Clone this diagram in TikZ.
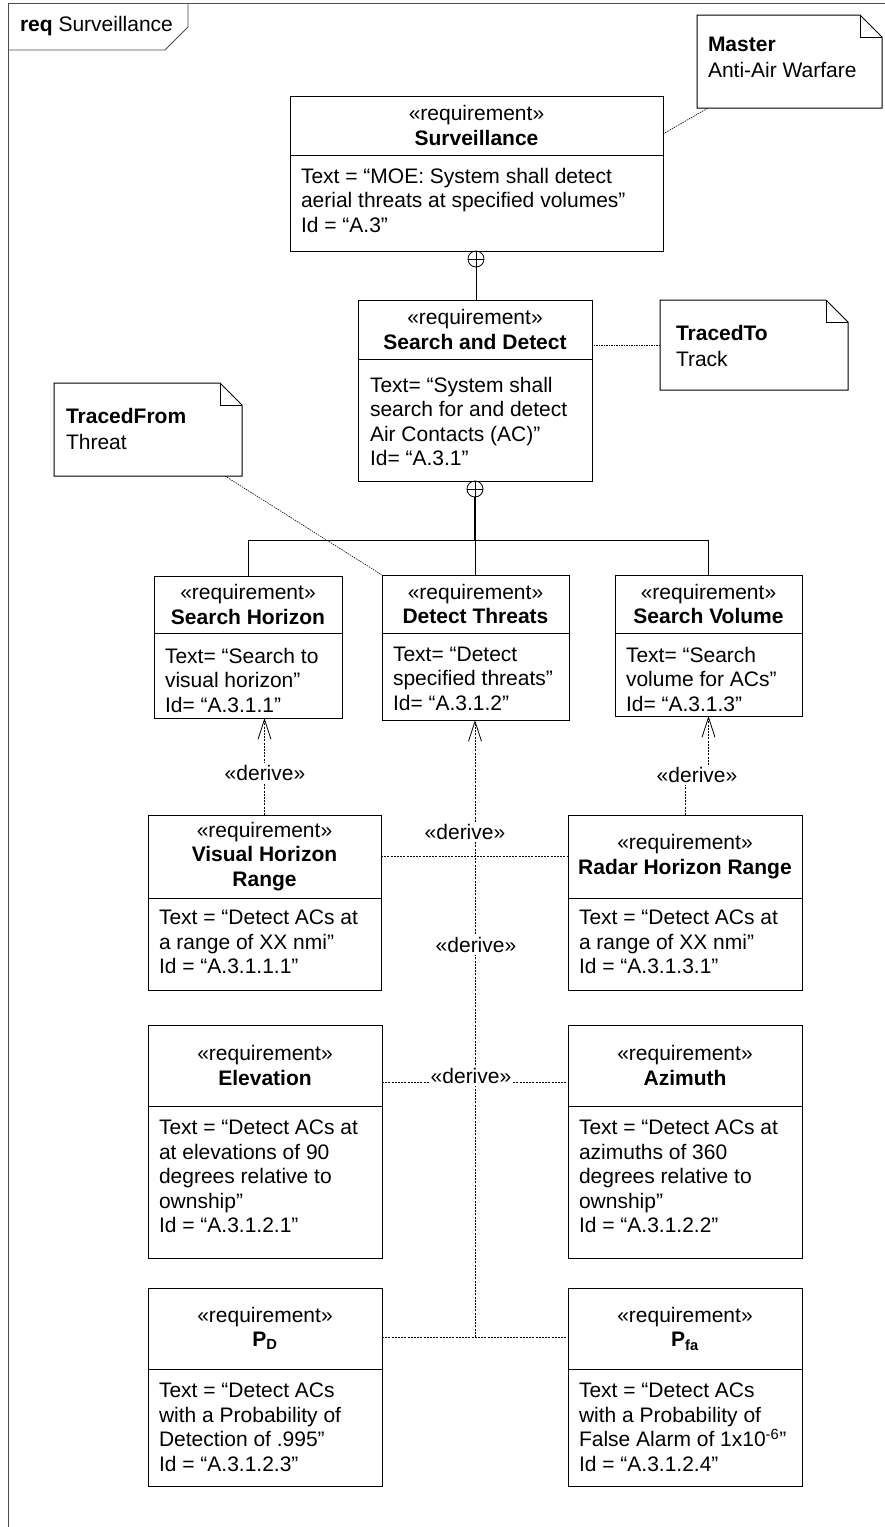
\documentclass[tikz,border=0pt]{standalone}
\usepackage{fontspec}
\setmainfont{Liberation Sans}
\usetikzlibrary{arrows.meta}

% requirement block: name, x1, y1, x2, y2, y of compartment divider
\newcommand\reqbox[6]{%
  \node[reqbox, minimum width={(#4-#2)*1pt}, minimum height={(#5-#3)*1pt}] (#1) at (#2,#3) {};
  \draw[line width=1pt] (#2,#6) -- (#4,#6);
}
% comment note with folded corner: name, x1, y1, x2, y2
\newcommand\notebox[5]{%
  \node[anchor=north west, minimum width={(#4-#2)*1pt}, minimum height={(#5-#3)*1pt}] (#1) at (#2,#3) {};
  \draw[line width=1pt, fill=white] (#2,#3) -- (#4-22,#3) -- (#4,#3+22) -- (#4,#5) -- (#2,#5) -- cycle;
  \draw[line width=0.8pt] (#4-22,#3) -- (#4-22,#3+22) -- (#4,#3+22);
}

\begin{document}
\begin{tikzpicture}[x=1pt,y=-1pt,
  every node/.style={inner sep=0pt, outer sep=0pt, font=\fontsize{21}{24.5}\selectfont},
  reqbox/.style={draw, line width=1pt, rectangle, anchor=north west},
  ttl/.style={align=center},
  body/.style={align=left, anchor=north west},
  notetxt/.style={align=left, anchor=north west, font=\fontsize{21}{26}\selectfont},
  trace/.style={line width=0.6pt, dash pattern=on 1.5pt off 1pt},
  derive/.style={line width=0.6pt, dash pattern=on 2pt off 1.2pt},
  lbl/.style={fill=white, inner sep=2pt},
  openarrow/.style={-{Straight Barb[length=20pt,width=13pt,line width=0.8pt]}},
  contain/.style={draw, circle, minimum size=16pt, line width=0.8pt}
]
\useasboundingbox (0,0) rectangle (885,1527);

% diagram frame and header
\draw[line width=0.8pt, black!70] (8,1527) -- (8,3) -- (885,3);
\draw[line width=0.8pt, black!70] (8,50) -- (165,50) -- (188,27) -- (188,3);
\node[anchor=west] (hdr) at (20,26) {\textbf{req} Surveillance};

% requirement blocks
\reqbox{sv}{290}{96}{663}{251}{155}
\node[ttl] (svT) at (476.5,125.5) {«requirement»\\\textbf{Surveillance}};
\node[body] (svB) at (301,168) {Text = “MOE: System shall detect\\aerial threats at specified volumes”\\Id = “A.3”};

\reqbox{sd}{358}{300}{592}{481}{359}
\node[ttl] (sdT) at (475,329.5) {«requirement»\\\textbf{Search and Detect}};
\node[body] (sdB) at (370,377) {Text= “System shall\\search for and detect\\Air Contacts (AC)”\\Id= “A.3.1”};

\reqbox{sh}{154}{576}{342}{718}{633}
\node[ttl] (shT) at (248,604.5) {«requirement»\\\textbf{Search Horizon}};
\node[body] (shB) at (165,648) {Text= “Search to\\visual horizon”\\Id= “A.3.1.1”};

\reqbox{dt}{382}{575}{569}{720}{633}
\node[ttl] (dtT) at (475.5,604) {«requirement»\\\textbf{Detect Threats}};
\node[body] (dtB) at (393,647) {Text= “Detect\\specified threats”\\Id= “A.3.1.2”};

\reqbox{svl}{615}{575}{802}{716}{633}
\node[ttl] (svlT) at (708.5,604) {«requirement»\\\textbf{Search Volume}};
\node[body] (svlB) at (626,647) {Text= “Search\\volume for ACs”\\Id= “A.3.1.3”};

\reqbox{vhr}{148}{815}{381}{990}{898}
\node[ttl] (vhrT) at (264.5,856.5) {«requirement»\\\textbf{Visual Horizon}\\\textbf{Range}};
\node[body] (vhrB) at (159,910) {Text = “Detect ACs at\\a range of XX nmi”\\Id = “A.3.1.1.1”};

\reqbox{rhr}{568}{815}{802}{990}{898}
\node[ttl] (rhrT) at (685,856.5) {«requirement»\\\textbf{Radar Horizon Range}};
\node[body] (rhrB) at (579,910) {Text = “Detect ACs at\\a range of XX nmi”\\Id = “A.3.1.3.1”};

\reqbox{el}{148}{1025}{382}{1258}{1106}
\node[ttl] (elT) at (265,1065.5) {«requirement»\\\textbf{Elevation}};
\node[body] (elB) at (159,1120) {Text = “Detect ACs at\\at elevations of 90\\degrees relative to\\ownship”\\Id = “A.3.1.2.1”};

\reqbox{az}{568}{1025}{802}{1258}{1106}
\node[ttl] (azT) at (685,1065.5) {«requirement»\\\textbf{Azimuth}};
\node[body] (azB) at (579,1120) {Text = “Detect ACs at\\azimuths of 360\\degrees relative to\\ownship”\\Id = “A.3.1.2.2”};

\reqbox{pd}{148}{1288}{382}{1486}{1369}
\node[ttl] (pdT) at (265,1328.5) {«requirement»\\\textbf{P\textsubscript{D}}};
\node[body] (pdB) at (159,1383) {Text = “Detect ACs\\with a Probability of\\Detection of .995”\\Id = “A.3.1.2.3”};

\reqbox{pf}{568}{1288}{802}{1486}{1369}
\node[ttl] (pfT) at (685,1328.5) {«requirement»\\\textbf{P\textsubscript{fa}}};
\node[body] (pfB) at (579,1383) {Text = “Detect ACs\\with a Probability of\\False Alarm of 1x10\textsuperscript{-6}”\\Id = “A.3.1.2.4”};

% notes
\notebox{mn}{697}{15}{882}{108}
\node[notetxt] (mnT) at (708,37) {\textbf{Master}\\Anti-Air Warfare};
\notebox{tt}{660}{300}{848}{390}
\node[notetxt] (ttT) at (676,325) {\textbf{TracedTo}\\Track};
\notebox{tf}{54}{383}{242}{476}
\node[notetxt] (tfT) at (66,408) {\textbf{TracedFrom}\\Threat};

% note attachments
\draw[trace] ([yshift=-38pt]sv.north east) -- ([xshift=11pt]mn.south west);
\draw[trace] (tt.west) -- (tt.west -| sd.east);
\draw[trace] ([xshift=-17pt]tf.south east) -- (dt.north west);

% containment
\node[contain] (c1) at (476,259) {};
\draw[line width=0.8pt] (c1.north) -- (c1.south) (c1.west) -- (c1.east);
\draw[line width=0.8pt] (c1.south) -- (c1.south |- sd.north);
\node[contain] (c2) at (475,489) {};
\draw[line width=0.8pt] (c2.north) -- (c2.south) (c2.west) -- (c2.east);
\coordinate (bus) at (475,540);
\draw[line width=1.2pt] (c2.south) -- (bus);
\draw[line width=0.8pt] (sh.north) -- (sh.north |- bus) -- (svl.north |- bus) -- (svl.north);
\draw[line width=0.8pt] (bus) -- (bus -| dt.north) -- (dt.north);

% derive relations
\draw[derive, openarrow] (vhr.north) -- (vhr.north |- sh.south);
\node[lbl] (d1) at (265,773) {«derive»};
\draw[derive, openarrow] (rhr.north) -- ++(0,-40) -| (svl.south);
\node[lbl] (d2) at (697,775) {«derive»};

\coordinate (trunk) at (475,1337);
\draw[derive, openarrow] (trunk) -- (trunk |- dt.south);
\draw[derive] ([yshift=-41pt]vhr.north east) -- ([yshift=-41pt]rhr.north west);
\draw[derive] ([yshift=-57pt]el.north east) -- ([yshift=-57pt]az.north west);
\draw[derive] ([yshift=-49pt]pd.north east) -- ([yshift=-49pt]pf.north west);
\node[lbl] (d3) at (465,832) {«derive»};
\node[lbl] (d4) at (476,945) {«derive»};
\node[lbl] (d5) at (471,1076) {«derive»};
\end{tikzpicture}
\end{document}
